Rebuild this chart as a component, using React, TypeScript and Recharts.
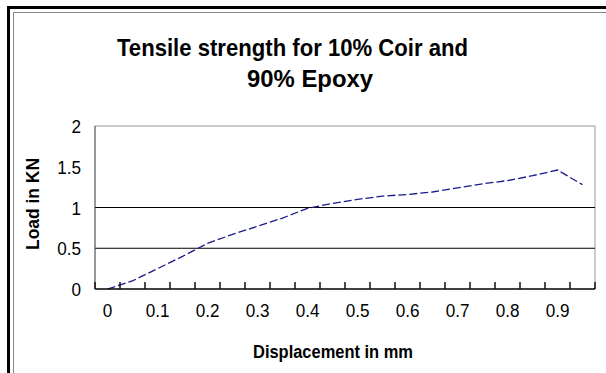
import { LineChart, Line, XAxis, YAxis, ReferenceLine } from 'recharts'

// Displacement categories (mm) and measured load (kN)
const displacement = [0, 0.05, 0.1, 0.15, 0.2, 0.25, 0.3, 0.35, 0.4, 0.45, 0.5, 0.55, 0.6, 0.65, 0.7, 0.75, 0.8, 0.85, 0.9, 0.95]
const load = [0, 0.1, 0.25, 0.4, 0.56, 0.67, 0.77, 0.87, 0.99, 1.05, 1.1, 1.14, 1.16, 1.19, 1.24, 1.29, 1.33, 1.39, 1.46, 1.28]

// axis ticks
const xTickLabels = [0, 0.1, 0.2, 0.3, 0.4, 0.5, 0.6, 0.7, 0.8, 0.9]
const xTickMarks = [-0.025, 0.025, 0.075, 0.125, 0.175, 0.225, 0.275, 0.325, 0.375, 0.425, 0.475, 0.525, 0.575, 0.625, 0.675, 0.725, 0.775, 0.825, 0.875, 0.925, 0.975]
const yTicks = [0, 0.5, 1, 1.5, 2]
const gridValues = [0.5, 1]

const chartData = displacement.map((d, i) => ({ disp: d, load: load[i] }))
const allXTicks = [...xTickMarks, ...xTickLabels].sort((a, b) => a - b)

const FONT = '"Liberation Sans", Arial, sans-serif'
const X_DOMAIN: [number, number] = [-0.025, 0.975]

// x ticks: boundary values draw a short inside mark, label values draw text
const XTick = ({ x, y, payload }: any) => {
  if (xTickLabels.includes(payload.value)) {
    return (
      <text
        transform={`translate(${x} ${y + 28}) scale(0.9 1)`}
        textAnchor="middle"
        fontFamily={FONT}
        fontSize={19}
        fill="#000"
      >
        {String(payload.value)}
      </text>
    )
  }
  return (
    <g>
      <line x1={x} y1={y} x2={x} y2={y - 7} stroke="#111" strokeWidth={1.5} />
    </g>
  )
}

const YTick = ({ x, y, payload }: any) => (
  <text
    transform={`translate(${x} ${y + 7}) scale(0.9 1)`}
    textAnchor="end"
    fontFamily={FONT}
    fontSize={19}
    fill="#000"
  >
    {String(payload.value)}
  </text>
)

export default function App() {
  return (
    <div
      style={{
        position: 'absolute',
        left: 0,
        top: 0,
        width: 606,
        height: 373,
        overflow: 'hidden',
        background: '#fff',
      }}
    >
      <LineChart
        width={606}
        height={373}
        data={chartData}
        margin={{ top: 126, right: 11, bottom: 0, left: 0 }}
      >
        <XAxis
          dataKey="disp"
          type="number"
          domain={X_DOMAIN}
          allowDataOverflow
          ticks={allXTicks}
          interval={0}
          height={84}
          tickLine={false}
          tickSize={0}
          tickMargin={0}
          axisLine={{ stroke: '#000', strokeWidth: 1.5 }}
          tick={<XTick />}
        />
        <YAxis
          type="number"
          domain={[0, 2]}
          ticks={yTicks}
          interval={0}
          width={95}
          tickLine={false}
          tickSize={0}
          tickMargin={14}
          axisLine={{ stroke: '#333' }}
          tick={<YTick />}
        />
        <ReferenceLine y={2} stroke="#999" />
        <ReferenceLine x={0.975} stroke="#999" />
        {gridValues.map((v) => (
          <ReferenceLine key={v} y={v} stroke="#000" strokeWidth={1.2} />
        ))}
        <Line
          dataKey="load"
          stroke="#1a1a8c"
          strokeWidth={1.3}
          strokeDasharray="8 3"
          dot={false}
          isAnimationActive={false}
        />
      </LineChart>

      <svg
        width={606}
        height={373}
        style={{ position: 'absolute', left: 0, top: 0, pointerEvents: 'none' }}
      >
        {/* outer frame */}
        <line x1={7} y1={7.5} x2={606} y2={7.5} stroke="#000" strokeWidth={3} />
        <line x1={8.5} y1={6} x2={8.5} y2={373} stroke="#000" strokeWidth={3} />
        <line x1={13} y1={12.5} x2={606} y2={12.5} stroke="#888" strokeWidth={1} />
        <line x1={13.5} y1={12} x2={13.5} y2={373} stroke="#888" strokeWidth={1} />

        <text
          x={117}
          y={56}
          textLength={351}
          lengthAdjust="spacingAndGlyphs"
          fontFamily={FONT}
          fontWeight="bold"
          fontSize={24}
          fill="#000"
        >
          Tensile strength for 10% Coir and
        </text>
        <text
          x={247}
          y={87}
          textLength={126}
          lengthAdjust="spacingAndGlyphs"
          fontFamily={FONT}
          fontWeight="bold"
          fontSize={24}
          fill="#000"
        >
          90% Epoxy
        </text>
        <text
          x={253}
          y={358}
          textLength={160}
          lengthAdjust="spacingAndGlyphs"
          fontFamily={FONT}
          fontWeight="bold"
          fontSize={18}
          fill="#000"
        >
          Displacement in mm
        </text>
        <text
          x={0}
          y={0}
          transform="translate(38.5, 250) rotate(-90)"
          textLength={92}
          lengthAdjust="spacingAndGlyphs"
          fontFamily={FONT}
          fontWeight="bold"
          fontSize={18}
          fill="#000"
        >
          Load in KN
        </text>
      </svg>
    </div>
  )
}
